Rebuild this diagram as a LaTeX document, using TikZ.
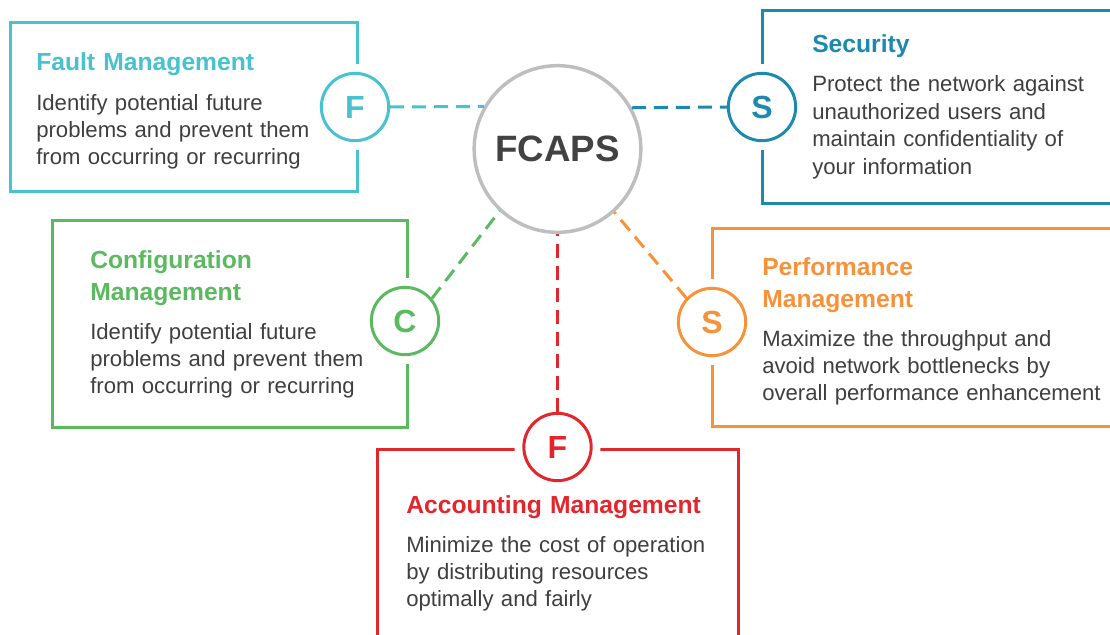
\documentclass[tikz,border=0pt]{standalone}
\usepackage{fontspec}
\setmainfont{Liberation Sans}
\definecolor{faultc}{HTML}{47C2CE}
\definecolor{secc}{HTML}{1C8AAF}
\definecolor{confc}{HTML}{5BBA5F}
\definecolor{perfc}{HTML}{F7923A}
\definecolor{accc}{HTML}{E3262C}
\definecolor{txt}{HTML}{3F3F3F}
\definecolor{hubline}{HTML}{BEBEBE}
\definecolor{hubtxt}{HTML}{424242}
\begin{document}
\begin{tikzpicture}[x=0.75pt,y=-0.75pt,
  frame/.style={line width=2.25pt},
  halo/.style={circle, fill=white, minimum size=64.5pt, inner sep=0pt},
  badge/.style={circle, draw, line width=2.25pt, fill=white, minimum size=50.5pt,
    inner sep=0pt, font=\fontsize{24}{24}\selectfont\bfseries},
  hubnode/.style={circle, draw=hubline, line width=2.6pt, fill=white, minimum size=125pt,
    inner sep=0pt, text=hubtxt, font=\fontsize{27.5}{27.5}\selectfont\bfseries},
  link/.style={line width=2.25pt, dash pattern=on 10.5pt off 6pt},
  title/.style={anchor=base west, inner sep=0pt, align=left, text width=300pt,
    font=\fontsize{18.5}{24}\selectfont\bfseries},
  body/.style={anchor=base west, inner sep=0pt, align=left, text width=300pt,
    text=txt, font=\fontsize{16.6}{20.6}\selectfont}]
\fill[white] (0,0) rectangle (1110,635);
\useasboundingbox (0,0) rectangle (1110,635);
\clip (0,0) rectangle (1110,635);

% panels
\draw[frame, faultc] (10,23) rectangle (357,191.5);
\draw[frame, secc] (762,10.5) rectangle (1130,203.5);
\draw[frame, confc] (52,220) rectangle (407,427.5);
\draw[frame, perfc] (712,228.5) rectangle (1130,426);
\draw[frame, accc] (377,449) rectangle (738,660);

% white gaps where the badges cross the panel edges
\node[halo] at (355,107) {};
\node[halo] at (762,107) {};
\node[halo] at (405,321) {};
\node[halo] at (712,322) {};
\node[halo] at (557.5,447) {};

% centre and badges
\node[hubnode] (hub) at (557.5,149) {FCAPS};
\node[badge, draw=faultc, text=faultc] (fB) at (355,107) {F};
\node[badge, draw=secc, text=secc] (sB) at (762,107) {S};
\node[badge, draw=confc, text=confc] (cB) at (405,321) {C};
\node[badge, draw=perfc, text=perfc] (pB) at (712,322) {S};
\node[badge, draw=accc, text=accc] (aB) at (557.5,447) {F};

% dashed connectors
\draw[link, faultc] (fB.east) -- (hub.150.4);
\draw[link, secc] (hub.29.6) -- (sB.west);
\draw[link, confc] (cB.40) -- (hub.227);
\draw[link, perfc] (pB.137) -- (hub.312);
\draw[link, accc] (aB.north) -- (hub.south);

% texts
\node[title, text=faultc] (ft) at (36,70) {Fault Management};
\node[body] (fd) at (36,110) {Identify potential future\\problems and prevent them\\from occurring or recurring};

\node[title, text=secc] (st) at (812,53) {Security};
\node[body] (sd) at (812,92) {Protect the network against\\unauthorized users and\\maintain confidentiality of\\your information};

\node[title, text=confc] (ct) at (90,268) {Configuration\\Management};
\node[body] (cd) at (90,339) {Identify potential future\\problems and prevent them\\from occurring or recurring};

\node[title, text=perfc] (pt) at (762,275) {Performance\\Management};
\node[body] (pd) at (762,346) {Maximize the throughput and\\avoid network bottlenecks by\\overall performance enhancement};

\node[title, text=accc] (at) at (406,513) {Accounting Management};
\node[body] (ad) at (406,552) {Minimize the cost of operation\\by distributing resources\\optimally and fairly};
\end{tikzpicture}
\end{document}
